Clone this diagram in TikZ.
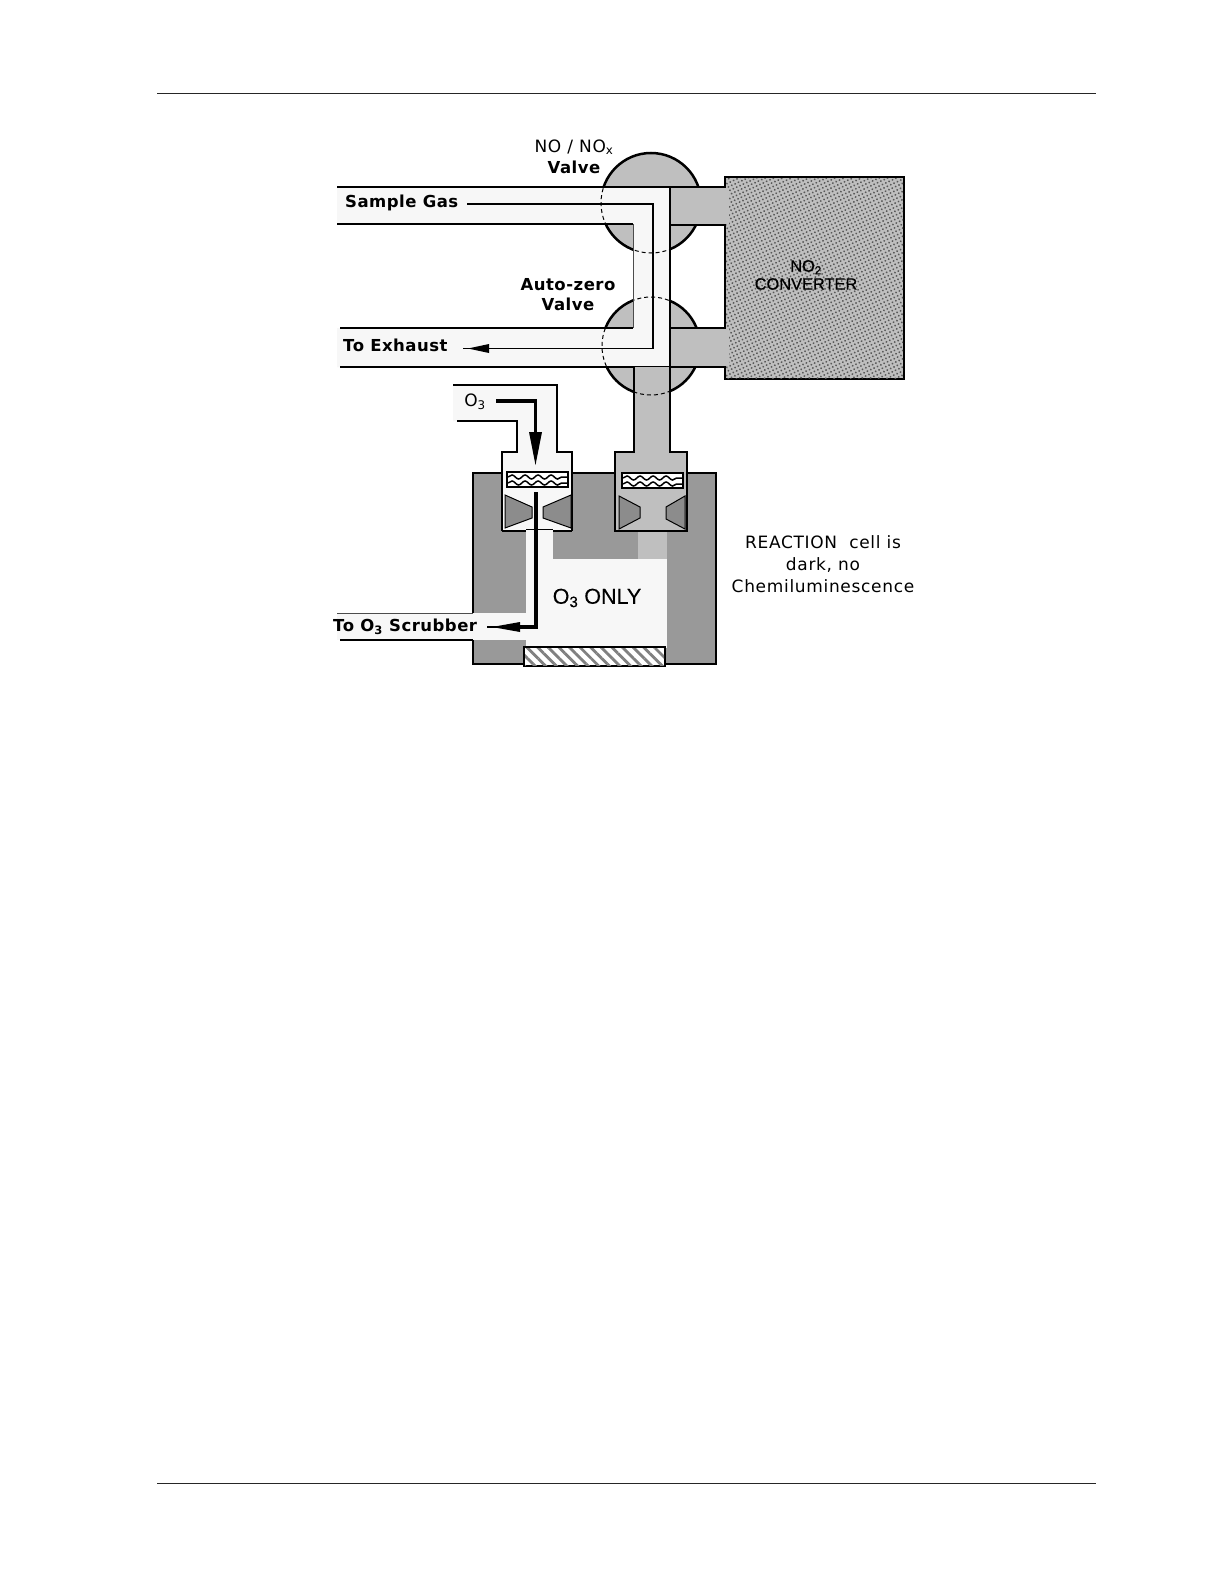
\documentclass[tikz,border=0pt]{standalone}
\usepackage{fontspec}
\setmainfont{DejaVu Sans}
\newfontfamily\boldspaced[LetterSpace=3]{DejaVu Sans Bold}
\newfontfamily\plainspaced[LetterSpace=4]{DejaVu Sans}
\newfontfamily\arialfont[FakeBold=0.35]{Liberation Sans}
\usepackage{xcolor}
\usepackage{tikz}
\usetikzlibrary{patterns.meta,decorations.pathmorphing}

\definecolor{pipewhite}{gray}{0.97}
\definecolor{gaslight}{gray}{0.75}
\definecolor{blockdark}{gray}{0.60}
\definecolor{vanegray}{gray}{0.55}

\begin{document}
\begin{tikzpicture}[
    x=1pt, y=-1pt,
    wall/.style={draw=black, line width=2.5pt},
    thinwall/.style={draw=black!70, line width=1pt},
    valveedge/.style={line width=1pt, dash pattern=on 4pt off 3pt},
    vane/.style={draw=black, line width=1pt, fill=vanegray},
    flow/.style={draw=black, line width=1.4pt},
    heavyflow/.style={draw=black, line width=3.2pt},
    wave/.style={line width=1.5pt, decorate, decoration={snake, amplitude=2pt, segment length=13pt}},
    boldlabel/.style={font=\boldspaced\fontsize{16.5}{18}\selectfont, inner sep=0pt},
    plainlabel/.style={font=\plainspaced\fontsize{17}{19}\selectfont, inner sep=0pt}
]
\useasboundingbox (0,0) rectangle (1224,1584);
\fill[white] (0,0) rectangle (1224,1584);
% page rules
\draw[line width=1pt, black!85] (157,94) -- (1096,94);
\draw[line width=1pt, black!85] (157,1483) -- (1096,1483);

% valves
\draw[wall, fill=gaslight] (651,203) circle (50);
\draw[wall, fill=gaslight] (651,346) circle (49);

% gas path through both valves
\fill[pipewhite] (337,187) -- (670,187) -- (670,367) -- (337,367) -- (337,328)
    -- (633,328) -- (633,224) -- (337,224) -- cycle;
\fill[white] (590,226) rectangle (602,326);
\begin{scope}
    \clip (337,187) rectangle (633,224);
    \draw[valveedge] (651,203) circle (50);
\end{scope}
\begin{scope}
    \clip (633,225) rectangle (670,328);
    \draw[valveedge] (651,203) circle (50);
    \draw[valveedge] (651,346) circle (49);
\end{scope}
\begin{scope}
    \clip (337,329) rectangle (633,367);
    \draw[valveedge] (651,346) circle (49);
\end{scope}
\draw[wall] (337,187) -- (670,187);
\draw[wall] (337,224) -- (633,224);
\draw[wall] (340,328) -- (633,328);
\draw[wall] (340,367) -- (670,367);
\draw[thinwall] (633,224) -- (633,328);

% converter
\draw[wall, fill=gaslight] (725,177) rectangle (904,379);
\fill[pattern={Dots[radius=1.05pt,distance=3.7pt,angle=25]}, pattern color=black!65] (726,178) rectangle (903,378);
\fill[gaslight] (670,188) rectangle (729,224);
\fill[gaslight] (670,329) rectangle (729,366);
\draw[wall] (670,187) -- (725,187);
\draw[wall] (670,225) -- (725,225) -- (725,328) -- (670,328);
\draw[wall] (670,367) -- (725,367);
\draw[wall] (670,187) -- (670,367);

% reaction cell block
\draw[wall, fill=blockdark] (473,473) rectangle (716,664);
\fill[pipewhite] (526,531) rectangle (667,648);
\fill[blockdark] (553,531) rectangle (638,559);
\fill[gaslight] (638,531) rectangle (667,559);
\fill[pipewhite] (337,613) rectangle (527,640);
\draw[thinwall] (337,613) -- (473,613);
\draw[wall] (340,640) -- (473,640);
\draw[wall, fill=white] (524,647) rectangle (665,666);
\fill[pattern={Lines[angle=-45,distance=7.5pt,line width=2.8pt]}, pattern color=black!50] (525,648) rectangle (664,665);

% sample stem
\draw[wall, fill=gaslight] (634,367) -- (634,452) -- (615,452) -- (615,531)
    -- (687,531) -- (687,452) -- (670,452) -- (670,367);
\begin{scope}
    \clip (634,370) rectangle (670,420);
    \draw[valveedge] (651,346) circle (49);
\end{scope}

% ozone inlet
\fill[pipewhite] (453,385) -- (557,385) -- (557,452) -- (572,452) -- (572,531)
    -- (502,531) -- (502,452) -- (517,452) -- (517,421) -- (453,421) -- cycle;
\draw[wall] (453,385) -- (557,385) -- (557,452) -- (572,452) -- (572,531);
\draw[wall] (457,421) -- (517,421) -- (517,452) -- (502,452) -- (502,531);
\draw[wall] (502,531) -- (526,531);
\draw[wall] (553,531) -- (572,531);
\draw[line width=0.8pt] (526,529.5) -- (553,529.5);

% filters
\foreach \fx/\fy in {507/472,622/473}{
    \draw[wall, fill=white] (\fx,\fy) rectangle ++(61,15);
    \draw[wave] (\fx+1,\fy+5) -- ++(59,0);
    \draw[wave] (\fx+1,\fy+11) -- ++(59,0);
}

% vanes
\draw[vane] (505,495) -- (532,507) -- (532,518) -- (505,528) -- cycle;
\draw[vane] (571,495) -- (543,507) -- (543,518) -- (571,528) -- cycle;
\draw[vane] (619,496) -- (640,507) -- (640,518) -- (619,529) -- cycle;
\draw[vane] (685,496) -- (666,507) -- (666,519) -- (685,529) -- cycle;

% labels
\node[plainlabel] (noxvalve) at (574,147) {NO / NO\textsubscript{x}};
\node[boldlabel] (noxname) at (574,167) {Valve};
\node[boldlabel, anchor=west] (sample) at (345,203) {Sample Gas};
\node[boldlabel] (azvalve) at (568,285) {Auto-zero};
\node[boldlabel] (azname) at (568,304) {Valve};
\node[boldlabel, anchor=west] (exhaust) at (343,345) {To Exhaust};
\node[plainlabel] (ozone) at (475,402) {O\textsubscript{3}};
\node[boldlabel, anchor=west] (scrubber) at (333,627) {To O\textsubscript{3} Scrubber};
\node[font=\arialfont\fontsize{21.5}{23}\selectfont, inner sep=0pt] (only) at (597,598) {O\textsubscript{3} ONLY};
\node[font=\arialfont\fontsize{16.4}{18}\selectfont, inner sep=0pt, align=center] (converter) at (806,275) {NO\textsubscript{2}\\CONVERTER};
\node[plainlabel, align=center] (dark) at (823,564) {REACTION\ \ cell is\\[3pt]dark, no\\[3pt]Chemiluminescence};

% flow paths
\coordinate (samplestart) at (467,204);
\coordinate (bendin) at (653,204);
\coordinate (bendout) at (653,348.5);
\coordinate (exhaustend) at (463,348.5);
\coordinate (ozonestart) at (496,401);
\coordinate (ozonebend) at (535.5,401);
\coordinate (ozoneneck) at (535.5,434);
\coordinate (celltop) at (536,492);
\coordinate (cellbend) at (536,627);
\coordinate (cellneck) at (518,627);
\coordinate (scrubberend) at (487,627);
\draw[flow] (samplestart) -- (bendin) -- (bendout) -- (exhaustend);
\fill[black] (489,344) -- (489,353) -- (468,348.5) -- cycle;
\draw[heavyflow] (ozonestart) -- (ozonebend) -- (ozoneneck);
\fill[black] (529,432) -- (542,432) -- (535.5,465) -- cycle;
\draw[heavyflow] (celltop) -- (cellbend) -- (cellneck);
\fill[black] (520,622) -- (520,632) -- (492,627) -- cycle;
\draw[flow] (cellneck) -- (scrubberend);
\end{tikzpicture}
\end{document}
